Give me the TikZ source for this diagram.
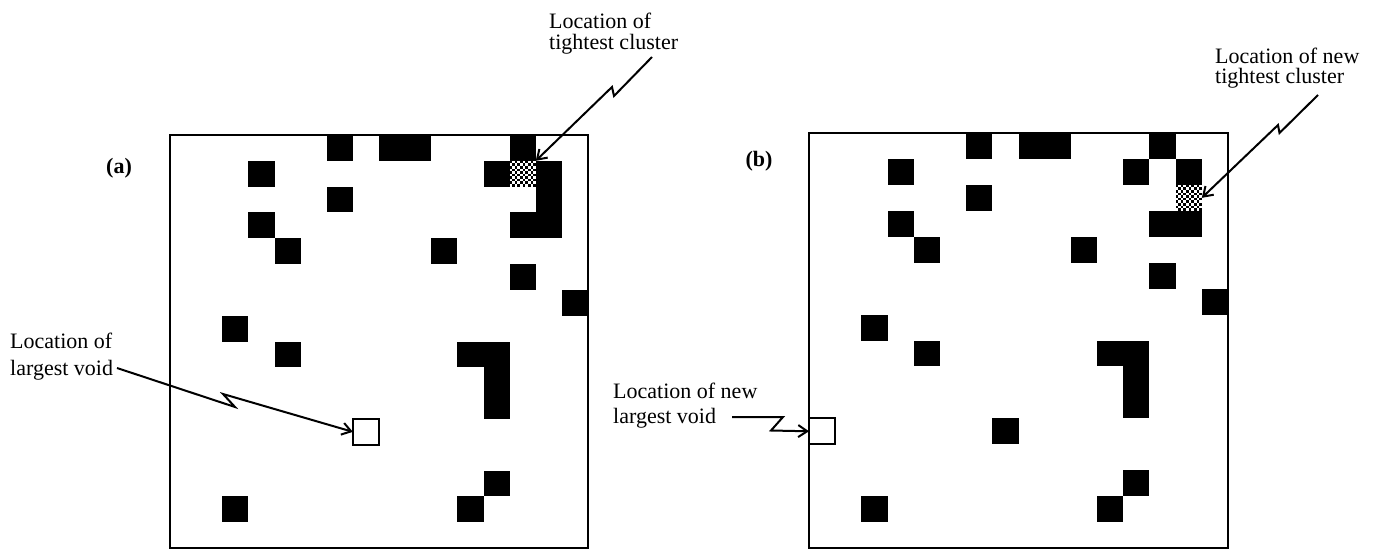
\documentclass[tikz,border=0pt]{standalone}
\usepackage{fontspec}
\setmainfont{Liberation Serif}
\usetikzlibrary{arrows.meta}
\begin{document}
\begin{tikzpicture}[x=1pt, y=-1pt,
  panelframe/.style={draw=black, line width=1.8pt},
  blackcell/.style={fill=black},
  voidcell/.style={draw=black, line width=1.8pt, fill=white},
  notetext/.style={inner sep=0pt, anchor=north west, align=left},
  panelmark/.style={font=\fontsize{22}{22}\selectfont\bfseries, inner sep=0pt},
  pointer/.style={line width=2pt, line join=miter,
    -{Straight Barb[length=9pt, width=12pt, line width=2pt]}}
]
\useasboundingbox (0,0) rectangle (1377,550);

% ---------- panel (a) ----------
\begin{scope}[shift={(170,135)}, x=26.125pt, y=-25.8125pt]
  \foreach \c/\r in {6/0,8/0,9/0,13/0,3/1,12/1,14/1,14/2,6/2,3/3,13/3,14/3,
                     4/4,10/4,13/5,15/6,2/7,4/8,11/8,12/8,12/9,12/10,
                     12/13,2/14,11/14}
    \fill[blackcell] (\c,\r) rectangle ++(1,1);
  % tightest cluster, stippled
  \begin{scope}
    \clip (13,1) rectangle ++(1,1);
    \fill[white] (13,1) rectangle ++(1,1);
    \foreach \i in {0,...,9}
      \foreach \j in {0,...,9} {
        \pgfmathtruncatemacro{\odd}{mod(\i+\j,2)}
        \ifnum\odd=0 \fill (13+\i/10,1+\j/10) rectangle ++(0.1,0.1); \fi
      }
  \end{scope}
  % largest void
  \draw[voidcell] (7,11) rectangle ++(1,1);
  \draw[panelframe] (0,0) rectangle (16,16);
  \coordinate (clusterA) at (14,1);
  \coordinate (voidA) at (7,11.5);
\end{scope}

% ---------- panel (b) ----------
\begin{scope}[shift={(809,133)}, x=26.1875pt, y=-25.9375pt]
  \foreach \c/\r in {6/0,8/0,9/0,13/0,3/1,12/1,14/1,6/2,3/3,13/3,14/3,
                     4/4,10/4,13/5,15/6,2/7,4/8,11/8,12/8,12/9,12/10,
                     7/11,12/13,2/14,11/14}
    \fill[blackcell] (\c,\r) rectangle ++(1,1);
  % new tightest cluster, stippled
  \begin{scope}
    \clip (14,2) rectangle ++(1,1);
    \fill[white] (14,2) rectangle ++(1,1);
    \foreach \i in {0,...,9}
      \foreach \j in {0,...,9} {
        \pgfmathtruncatemacro{\odd}{mod(\i+\j,2)}
        \ifnum\odd=0 \fill (14+\i/10,2+\j/10) rectangle ++(0.1,0.1); \fi
      }
  \end{scope}
  % new largest void
  \draw[voidcell] (0,11) rectangle ++(1,1);
  \draw[panelframe] (0,0) rectangle (16,16);
  \coordinate (clusterB) at (15,2.5);
  \coordinate (voidB) at (0,11.5);
\end{scope}

% ---------- panel marks ----------
\node[panelmark] (marka) at (119,168.5) {(a)};
\node[panelmark] (markb) at (759,161) {(b)};

% ---------- notes ----------
\node[notetext, font=\fontsize{22}{21.5}\selectfont] (noteca) at (549,12.7)
  {Location of\\tightest cluster};
\node[notetext, font=\fontsize{22}{26.5}\selectfont] (noteva) at (10,333.3)
  {Location of\\largest void};
\node[notetext, font=\fontsize{22}{25}\selectfont] (notevb) at (613,383.3)
  {Location of new\\largest void};
\node[notetext, font=\fontsize{22}{20}\selectfont] (notecb) at (1215,48.3)
  {Location of new\\tightest cluster};

% ---------- pointers ----------
\coordinate (ca0) at (652,57);
\coordinate (va0) at (117,368);
\coordinate (cb0) at (1318,95);
\coordinate (vb0) at (732,417);

\draw[pointer] (ca0) -- (614,96) -- (612,87) -- (clusterA);
\draw[pointer] (va0) -- (235,407) -- (223,394) -- (voidA);
\draw[pointer] (cb0) -- (1279.5,133) -- (1278,125) -- (clusterB);
\draw[pointer] (vb0) -- (783,417) -- (771,430.5) -- (voidB);
\end{tikzpicture}
\end{document}
